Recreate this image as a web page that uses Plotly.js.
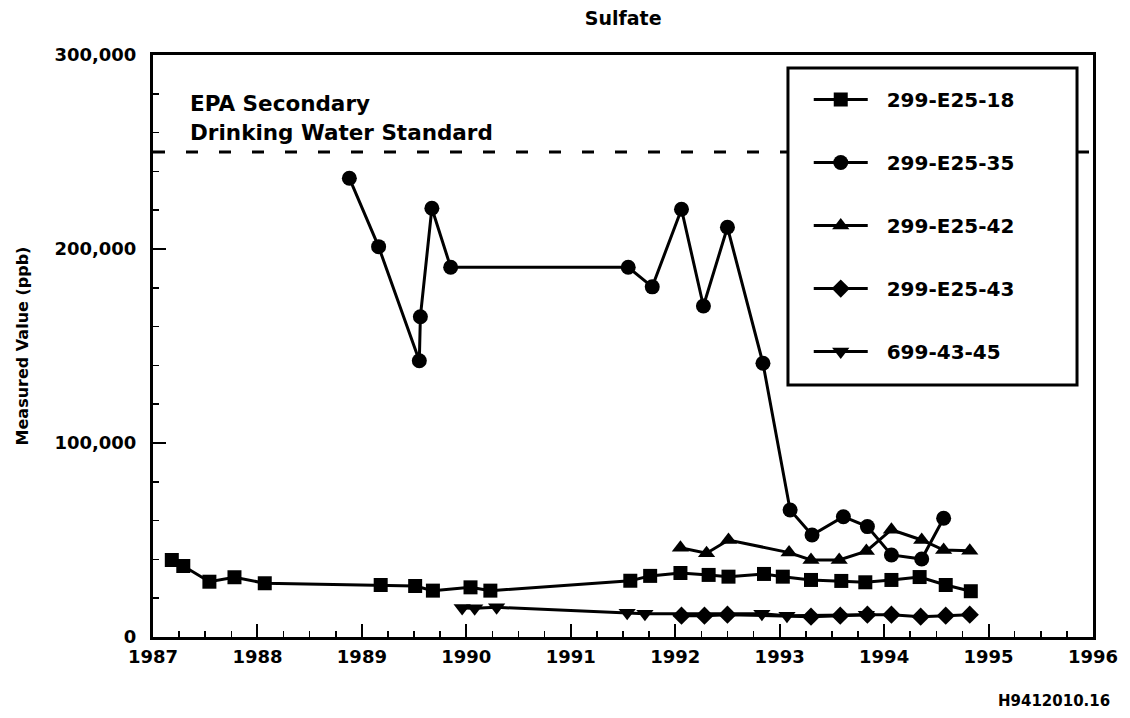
<!DOCTYPE html>
<html>
<head>
<meta charset="utf-8">
<script src="https://cdn.plot.ly/plotly-3.0.1.min.js"></script>
<style>
  html, body { margin: 0; padding: 0; background: #ffffff; }
  #chart { width: 1130px; height: 718px; }
</style>
</head>
<body>
<div id="chart"></div>
<script>
// ---- Data ----
const chartTitle = "Sulfate";
const yAxisTitle = "Measured Value (ppb)";
const seriesNames = ["299-E25-18", "299-E25-35", "299-E25-42", "299-E25-43", "699-43-45"];

const years18 = [1987.18, 1987.29, 1987.54, 1987.78, 1988.07, 1989.18, 1989.51, 1989.68, 1990.04, 1990.23,
                 1991.57, 1991.76, 1992.05, 1992.32, 1992.51, 1992.85, 1993.03, 1993.30, 1993.59, 1993.82,
                 1994.07, 1994.34, 1994.59, 1994.83];
const values18 = [39700, 36600, 28500, 30800, 27700, 26800, 26300, 23900, 25600, 23900,
                  29000, 31500, 33000, 32000, 31100, 32500, 31100, 29400, 28900, 28200,
                  29400, 30900, 26800, 23600];

const years35 = [1988.88, 1989.16, 1989.55, 1989.56, 1989.67, 1989.85, 1991.55, 1991.78, 1992.06, 1992.27,
                 1992.50, 1992.84, 1993.10, 1993.31, 1993.61, 1993.84, 1994.07, 1994.36, 1994.57];
const values35 = [236500, 201200, 142400, 165100, 221000, 190600, 190600, 180500, 220500, 170600,
                  211200, 141100, 65500, 52600, 62000, 56900, 42300, 40200, 61200];

const years42 = [1992.05, 1992.30, 1992.51, 1993.09, 1993.30, 1993.57, 1993.83, 1994.07, 1994.36, 1994.57, 1994.82];
const values42 = [46000, 43200, 50000, 43500, 39700, 39700, 44300, 55300, 50000, 44800, 44500];

const years43 = [1992.06, 1992.28, 1992.50, 1993.30, 1993.58, 1993.84, 1994.07, 1994.35, 1994.59, 1994.82];
const values43 = [11000, 11000, 11500, 10500, 11000, 11500, 11500, 10500, 11000, 11500];

const years45 = [1989.96, 1990.08, 1990.29, 1991.54, 1991.71, 1992.83, 1993.07, 1993.83];
const values45 = [15000, 14800, 15300, 12500, 12000, 12000, 11000, 11500];

const standardValue = 250000;
const standardLabel1 = "EPA Secondary";
const standardLabel2 = "Drinking Water Standard";
const figureId = "H9412010.16";

const xTickVals = [1987, 1988, 1989, 1990, 1991, 1992, 1993, 1994, 1995, 1996];
const yTickVals = [0, 100000, 200000, 300000];

// ---- Chart ----
const boldFont = "DejaVu Sans, Arial, sans-serif";
const symbols = ["square", "circle", "triangle-up", "diamond", "triangle-down"];
const sizes = [14, 15, 15, 14, 15];
const xs = [years18, years35, years42, years43, years45];
const ys = [values18, values35, values42, values43, values45];

const traces = seriesNames.map((name, i) => ({
  type: "scatter",
  mode: "lines+markers",
  name: "&nbsp;&nbsp;" + name,
  legendgroup: "g" + i,
  x: xs[i],
  y: ys[i],
  line: { color: "#000000", width: 3 },
  marker: { symbol: symbols[i], size: sizes[i], color: "#000000", line: { width: 0 } },
  cliponaxis: false
}));

const layout = {
  width: 1130,
  height: 718,
  paper_bgcolor: "#ffffff",
  plot_bgcolor: "#ffffff",
  margin: { l: 153, r: 37, t: 55, b: 81 },
  font: { family: boldFont, color: "#000000", weight: "bold" },
  title: {
    text: "<b>" + chartTitle + "</b>",
    font: { family: boldFont, size: 19, color: "#000000" },
    x: 0.5515, xanchor: "center", y: 0.975, yanchor: "middle"
  },
  xaxis: {
    range: [1987, 1996],
    tickvals: xTickVals,
    ticktext: xTickVals.map(v => "<b>" + v + "</b>"),
    ticks: "inside",
    ticklen: 13,
    tickwidth: 2,
    tickcolor: "#000000",
    minor: { dtick: 0.25, tick0: 1987, ticks: "inside", ticklen: 6, tickwidth: 1.5, tickcolor: "#000000" },
    showgrid: false,
    zeroline: false,
    showline: true,
    linecolor: "#000000",
    linewidth: 3,
    mirror: true,
    tickfont: { family: boldFont, size: 18, color: "#000000" },
    ticklabelstandoff: 1
  },
  yaxis: {
    range: [0, 300000],
    tickvals: yTickVals,
    ticktext: yTickVals.map(v => "<b>" + v.toLocaleString("en-US") + "</b>"),
    ticks: "inside",
    ticklen: 13,
    tickwidth: 2,
    tickcolor: "#000000",
    minor: { dtick: 20000, tick0: 0, ticks: "inside", ticklen: 6, tickwidth: 1.5, tickcolor: "#000000" },
    showgrid: false,
    zeroline: false,
    showline: true,
    linecolor: "#000000",
    linewidth: 3,
    mirror: true,
    tickfont: { family: boldFont, size: 18, color: "#000000" },
    ticklabelstandoff: 10,
    title: {
      text: "<b>" + yAxisTitle + "</b>",
      font: { family: boldFont, size: 16, color: "#000000" },
      standoff: 22
    }
  },
  showlegend: true,
  legend: {
    x: 0.6976, xanchor: "left",
    y: 0.957, yanchor: "top",
    bgcolor: "rgba(0,0,0,0)",
    borderwidth: 0,
    font: { family: boldFont, size: 20, color: "#000000", weight: "bold" },
    tracegroupgap: 34,
    itemwidth: 54
  },
  shapes: [
    {
      type: "line", xref: "paper", x0: 0, x1: 1, yref: "y", y0: standardValue, y1: standardValue,
      line: { color: "#000000", width: 3, dash: "12px,21px" }, layer: "below"
    },
    {
      type: "rect", xref: "paper", yref: "paper",
      x0: 0.6755, x1: 0.983, y0: 0.433, y1: 0.9777,
      line: { color: "#000000", width: 3 }, fillcolor: "#ffffff", layer: "above"
    }
  ],
  annotations: [
    {
      text: "<b>" + standardLabel1 + "</b>", xref: "paper", yref: "paper",
      x: 0.0372, y: 0.9175, xanchor: "left", yanchor: "middle", showarrow: false,
      font: { family: boldFont, size: 21.5, color: "#000000" }
    },
    {
      text: "<b>" + standardLabel2 + "</b>", xref: "paper", yref: "paper",
      x: 0.0372, y: 0.866, xanchor: "left", yanchor: "middle", showarrow: false,
      font: { family: boldFont, size: 21.5, color: "#000000" }
    },
    {
      text: "<b>" + figureId + "</b>", xref: "paper", yref: "paper",
      x: 0.958, y: -0.11, xanchor: "center", yanchor: "middle", showarrow: false,
      font: { family: boldFont, size: 15, color: "#000000" }
    }
  ]
};

Plotly.newPlot("chart", traces, layout, { displayModeBar: false, staticPlot: true });
</script>
</body>
</html>
